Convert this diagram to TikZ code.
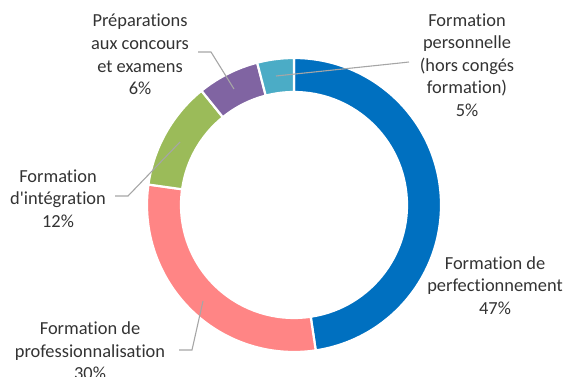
\documentclass[tikz,border=0pt]{standalone}
\usepackage{fontspec}
\setmainfont{Carlito}[Ligatures={NoCommon,TeXOff}]
\definecolor{segblue}{HTML}{0070C0}
\definecolor{segpink}{HTML}{FF8585}
\definecolor{seggreen}{HTML}{9BBB59}
\definecolor{segpurple}{HTML}{8064A2}
\definecolor{segcyan}{HTML}{4BACC6}
\definecolor{labeltext}{HTML}{333333}
\definecolor{leadergray}{HTML}{A6A6A6}
\tikzset{
  seg/.style={draw=white,line width=2.2pt,line join=miter},
  lbl/.style={align=center,text=labeltext,inner sep=0pt,
    font=\fontsize{18.4}{22.6}\selectfont},
  leader/.style={draw=leadergray,line width=1.1pt}
}
\begin{document}
\begin{tikzpicture}[x=1pt,y=1pt]
      \useasboundingbox (0,0) rectangle (566,376);

      % donut segments
      \begin{scope}[shift={(294,171)}]
      \filldraw[seg,fill=segblue] (90:147pt) arc[start angle=90,end angle=-81.5,radius=147pt] -- (-81.5:113pt) arc[start angle=-81.5,end angle=90,radius=113pt] -- cycle;
      \filldraw[seg,fill=segpink] (-81.5:147pt) arc[start angle=-81.5,end angle=-188,radius=147pt] -- (-188:113pt) arc[start angle=-188,end angle=-81.5,radius=113pt] -- cycle;
      \filldraw[seg,fill=seggreen] (-188:147pt) arc[start angle=-188,end angle=-231,radius=147pt] -- (-231:113pt) arc[start angle=-231,end angle=-188,radius=113pt] -- cycle;
      \filldraw[seg,fill=segpurple] (-231:147pt) arc[start angle=-231,end angle=-255.5,radius=147pt] -- (-255.5:113pt) arc[start angle=-255.5,end angle=-231,radius=113pt] -- cycle;
      \filldraw[seg,fill=segcyan] (-255.5:147pt) arc[start angle=-255.5,end angle=-270,radius=147pt] -- (-270:113pt) arc[start angle=-270,end angle=-255.5,radius=113pt] -- cycle;
      \end{scope}

      % labels
      \node[lbl] (perso) at (467,311) {Formation\\personnelle\\(hors congés\\formation)\\5\%};
      \node[lbl] (prep) at (140,321.5) {Préparations\\aux concours\\et examens\\6\%};
      \node[lbl] (integ) at (58,177.5) {Formation\\d'intégration\\12\%};
      \node[lbl] (prof) at (90,25) {Formation de\\professionnalisation\\30\%};
      \node[lbl] (perf) at (495,90.5) {Formation de\\perfectionnement\\47\%};

      % leader lines
      \coordinate (perso-in) at (276,300);
      \coordinate (perso-knee) at (400,313);
      \coordinate (perso-end) at (409,314);
      \coordinate (prep-in) at (234,287);
      \coordinate (prep-knee) at (211,324);
      \coordinate (prep-end) at (198,324);
      \coordinate (integ-in) at (180,234);
      \coordinate (integ-knee) at (128,180);
      \coordinate (integ-end) at (115,180);
      \coordinate (prof-in) at (203,75);
      \coordinate (prof-knee) at (192,26);
      \coordinate (prof-end) at (179,26);

      \draw[leader] (perso-in) -- (perso-knee) -- (perso-end);
      \draw[leader] (prep-in) -- (prep-knee) -- (prep-end);
      \draw[leader] (integ-in) -- (integ-knee) -- (integ-end);
      \draw[leader] (prof-in) -- (prof-knee) -- (prof-end);
\end{tikzpicture}
\end{document}
